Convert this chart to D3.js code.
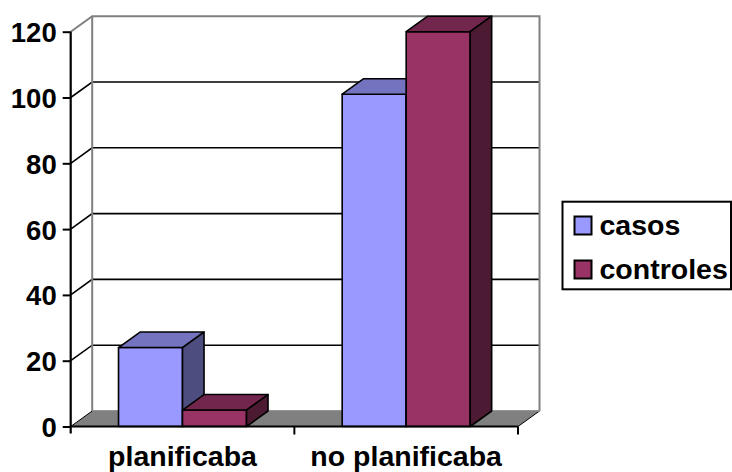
<!DOCTYPE html>
<html>
<head>
<meta charset="utf-8">
<script src="https://cdn.jsdelivr.net/npm/d3@7"></script>
<style>
  html, body { margin: 0; padding: 0; background: #fff; }
  svg { display: block; }
  text { font-family: "Liberation Sans", Arial, sans-serif; font-weight: bold; fill: #000; }
</style>
</head>
<body>
<svg id="chart" width="732" height="472"></svg>
<script>
// Chart data
const categories = ["planificaba", "no planificaba"];
const seriesNames = ["casos", "controles"];
const casos = [24, 101];
const controles = [5, 120];
const yTicks = [0, 20, 40, 60, 80, 100, 120];

const seriesValues = { casos: casos, controles: controles };
const faceColors = {
  casos: { front: "#9999FF", top: "#7373BF", side: "#4D4D80" },
  controles: { front: "#993366", top: "#73264D", side: "#4D1A33" }
};

const svg = d3.select("#chart");

// Front plane and depth offset of the 3D box
const left = 70.7, right = 518, y0px = 426.5, yTop = 31.7;
const dx = 21.5, dy = -15.5;

const y = d3.scaleLinear().domain([0, 120]).range([y0px, yTop]);
const x = d3.scaleBand().domain(categories).range([left, right]);
const barW = 64;
const xs = d3.scaleBand().domain(seriesNames)
  .range([x.bandwidth() / 2 - barW, x.bandwidth() / 2 + barW]);

// Floor
svg.append("polygon")
  .attr("points", [[left, y(0)], [right, y(0)], [right + dx, y(0) + dy], [left + dx, y(0) + dy]].join(" "))
  .attr("fill", "#808080")
  .attr("stroke", "#000").attr("stroke-width", 1);

// Gridlines: diagonal on the side wall, then across the back wall
const gridVals = yTicks.filter(v => v > 0 && v < 120);
const grid = svg.append("g").attr("stroke", "#000").attr("stroke-width", 1.6).attr("fill", "none");
gridVals.forEach(v => {
  grid.append("polyline")
    .attr("points", [[left, y(v)], [left + dx, y(v) + dy], [right + dx, y(v) + dy]].join(" "));
});

// Wall outline
svg.append("polyline")
  .attr("points", [[left, y(120)], [left + dx, y(120) + dy], [right + dx, y(120) + dy], [right + dx, y(0) + dy]].join(" "))
  .attr("fill", "none").attr("stroke", "#808080").attr("stroke-width", 2);
svg.append("line")
  .attr("x1", left + dx).attr("x2", left + dx)
  .attr("y1", y(120) + dy).attr("y2", y(0) + dy)
  .attr("stroke", "#808080").attr("stroke-width", 2);
svg.append("line")
  .attr("x1", left + dx).attr("x2", right + dx)
  .attr("y1", y(0) + dy).attr("y2", y(0) + dy)
  .attr("stroke", "#9a9a9a").attr("stroke-width", 1.5);

// 3D bars
const bars = svg.append("g").attr("stroke", "#000").attr("stroke-width", 1.6).attr("stroke-linejoin", "round");
categories.forEach((c, i) => {
  seriesNames.forEach(s => {
    const v = seriesValues[s][i];
    const x0 = x(c) + xs(s), x1 = x0 + xs.bandwidth();
    const yv = y(v), yb = y(0);
    const col = faceColors[s];
    bars.append("rect")
      .attr("x", x0).attr("y", yv).attr("width", x1 - x0).attr("height", yb - yv)
      .attr("fill", col.front);
    bars.append("polygon")
      .attr("points", [[x0, yv], [x0 + dx, yv + dy], [x1 + dx, yv + dy], [x1, yv]].join(" "))
      .attr("fill", col.top);
    bars.append("polygon")
      .attr("points", [[x1, yv], [x1 + dx, yv + dy], [x1 + dx, yb + dy], [x1, yb]].join(" "))
      .attr("fill", col.side);
  });
});

// Y axis
const yAxis = d3.axisLeft(y).tickValues(yTicks).tickSize(8).tickSizeOuter(0).tickPadding(6);
const gy = svg.append("g").attr("transform", `translate(${left},0)`).call(yAxis);
gy.select(".domain").attr("stroke", "#000").attr("stroke-width", 2.2)
  .attr("d", `M0,${y(120)}V${y(0) + 7}`);
gy.selectAll(".tick line").attr("stroke", "#000").attr("stroke-width", 2);
gy.selectAll(".tick text").attr("font-size", 27.5).attr("dy", "0.36em")
  .style("font-family", '"Liberation Sans", Arial, sans-serif').style("font-weight", "bold");

// X axis
svg.append("line")
  .attr("x1", left).attr("x2", right).attr("y1", y(0)).attr("y2", y(0))
  .attr("stroke", "#000").attr("stroke-width", 2.2);
const boundaries = [x(categories[1]), right];
svg.selectAll(".xtick").data(boundaries).join("line")
  .attr("x1", d => d).attr("x2", d => d)
  .attr("y1", y(0)).attr("y2", y(0) + 8)
  .attr("stroke", "#000").attr("stroke-width", 2);
svg.selectAll(".xlabel").data(categories).join("text")
  .attr("x", d => x(d) + x.bandwidth() / 2)
  .attr("y", 465.5)
  .attr("text-anchor", "middle")
  .attr("font-size", 28.5)
  .text(d => d);

// Legend
const lg = svg.append("g");
lg.append("rect")
  .attr("x", 562.5).attr("y", 201.7).attr("width", 168.5).attr("height", 87.6)
  .attr("fill", "#fff").attr("stroke", "#000").attr("stroke-width", 2);
seriesNames.forEach((s, i) => {
  lg.append("rect")
    .attr("x", 574.5).attr("y", 216.5 + i * 44).attr("width", 17).attr("height", 18)
    .attr("fill", faceColors[s].front).attr("stroke", "#000").attr("stroke-width", 2);
  lg.append("text")
    .attr("x", 599.5).attr("y", 234.5 + i * 44)
    .attr("font-size", 28.5)
    .text(s);
});
</script>
</body>
</html>
